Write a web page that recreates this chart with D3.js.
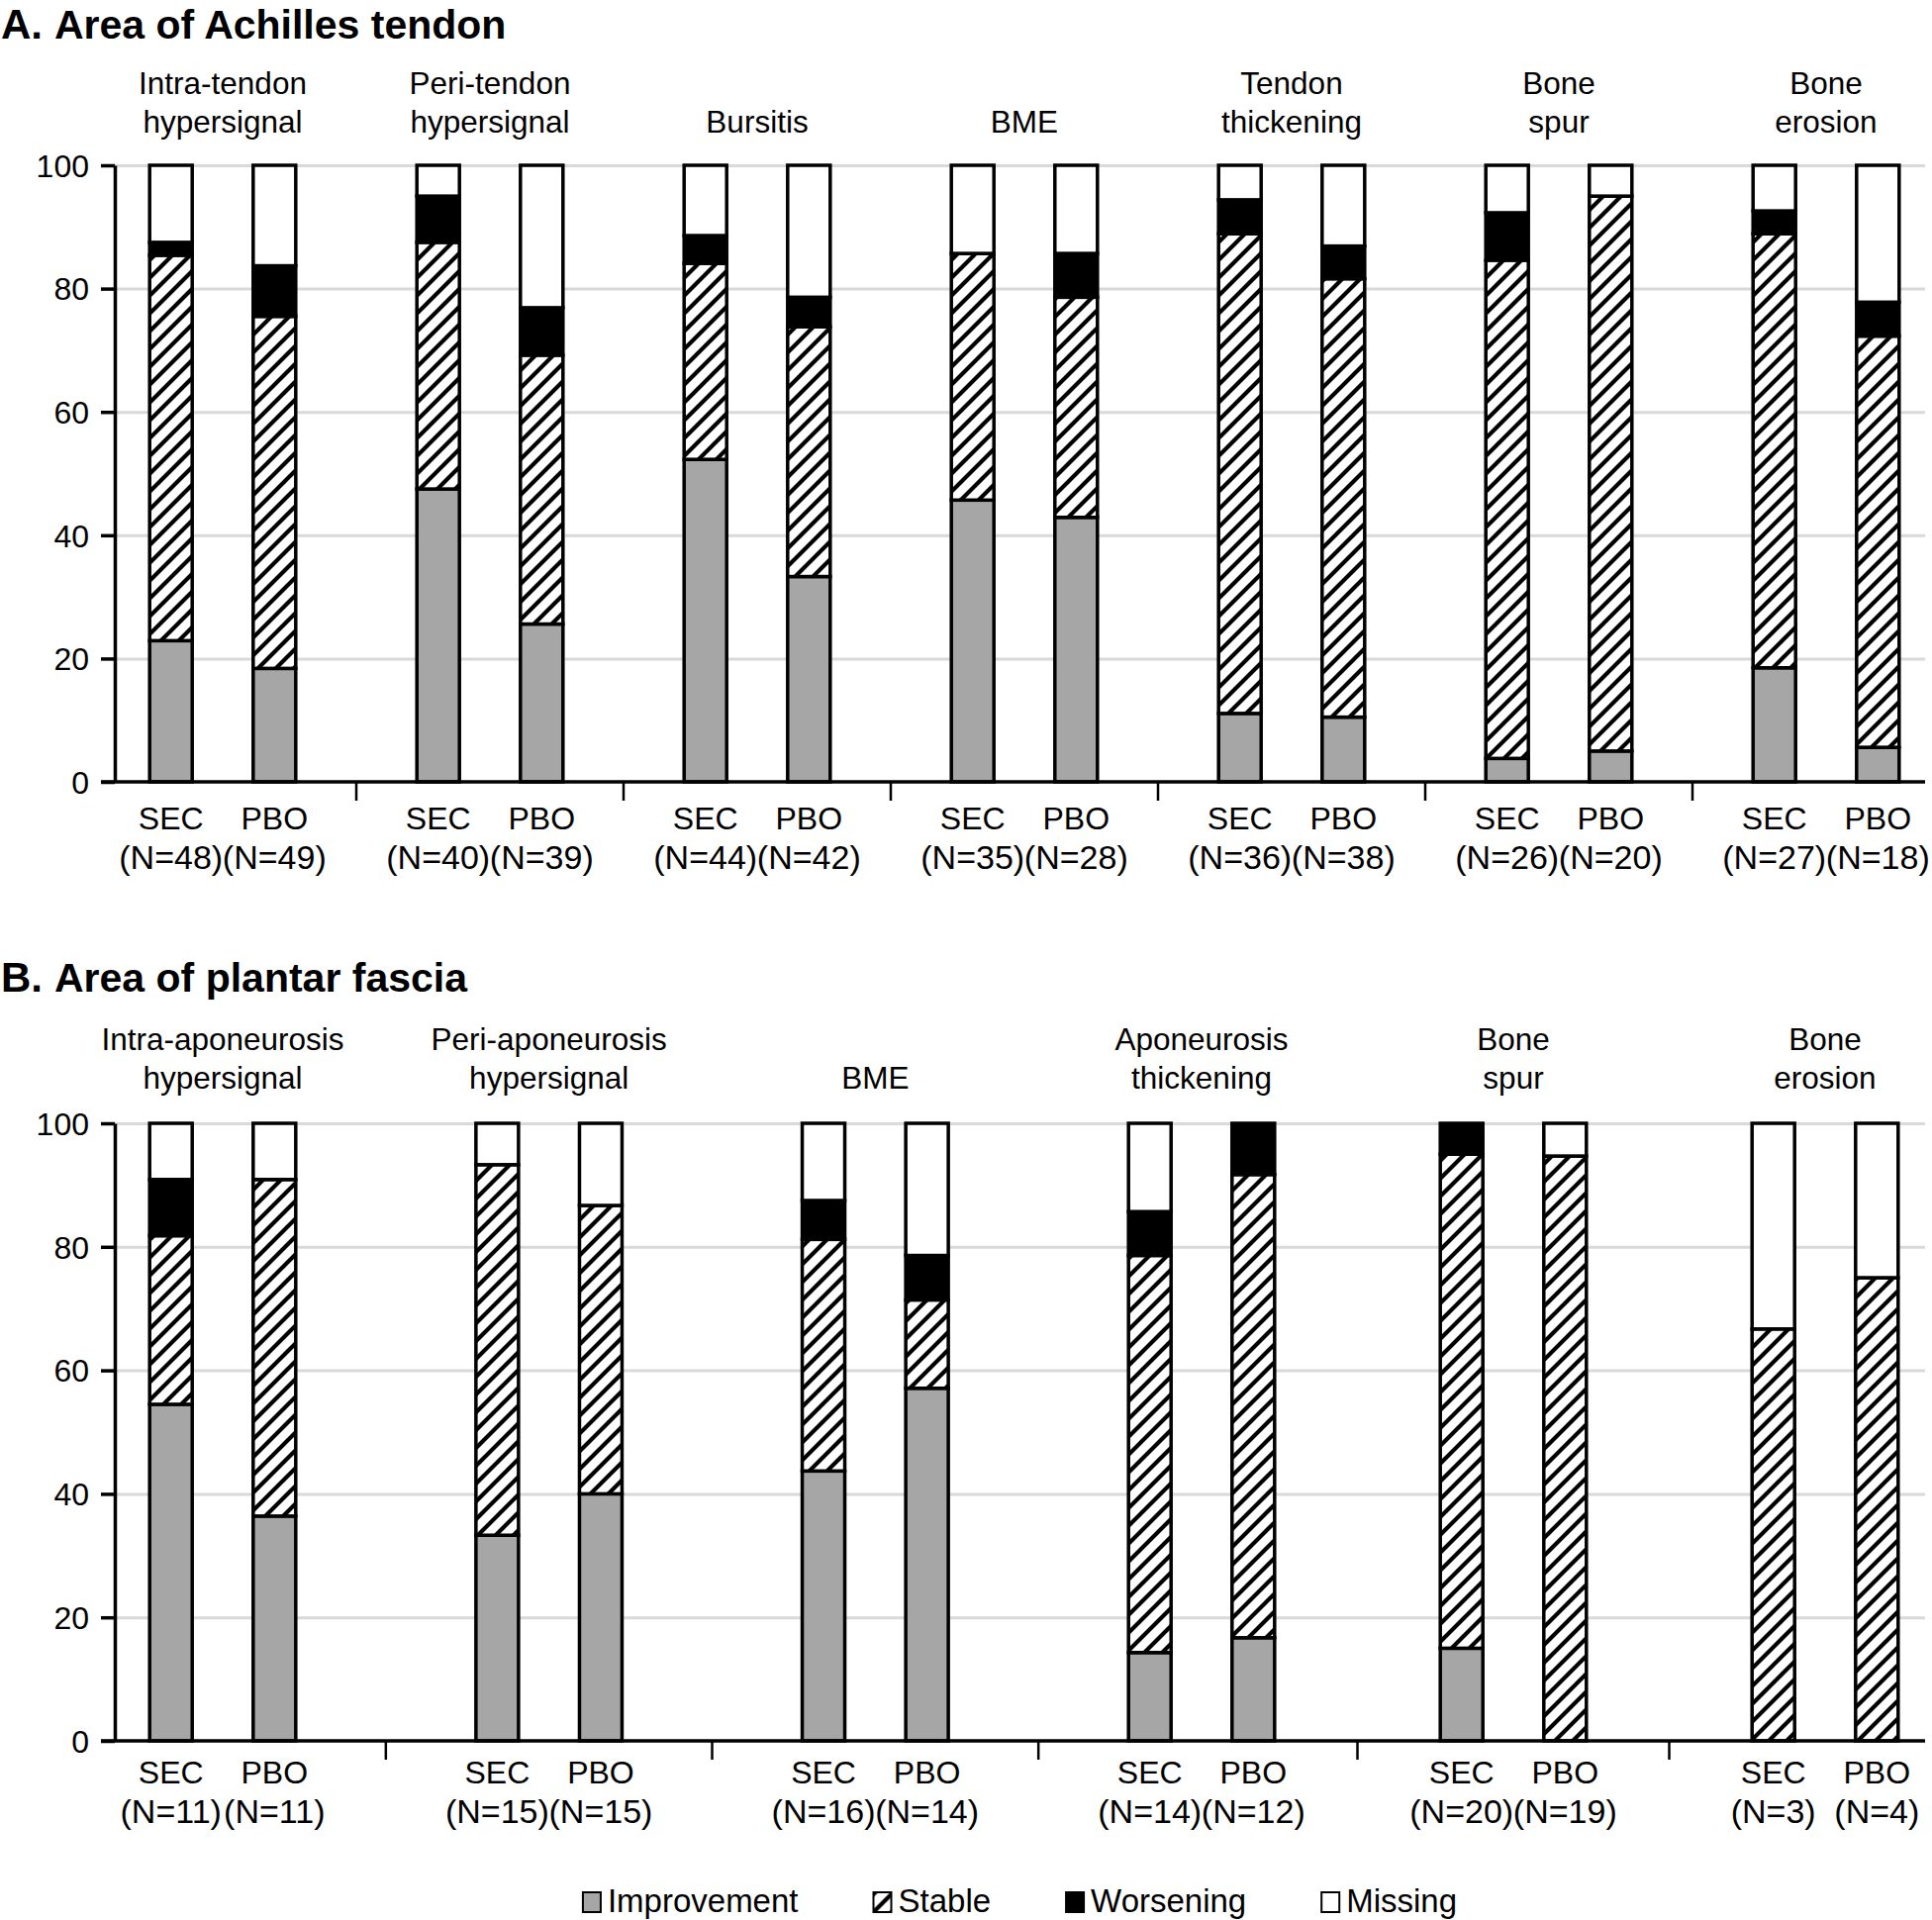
<!DOCTYPE html>
<html><head><meta charset="utf-8">
<script src="https://cdn.jsdelivr.net/npm/d3@7"></script>
<style>
body{margin:0;background:#fff}
svg{display:block}
text{font-family:"Liberation Sans",Arial,Helvetica,sans-serif;fill:#000}
</style>
</head><body>
<svg id="chart" width="1952" height="1940"></svg>
<script>
// ---------------- DATA ----------------
const seriesNames = ["Improvement", "Stable", "Worsening", "Missing"];
const arms = ["SEC", "PBO"];
const yTicks = [0, 20, 40, 60, 80, 100];

// Panel A: Area of Achilles tendon
const achillesGroups = [["Intra-tendon", "hypersignal"], ["Peri-tendon", "hypersignal"], ["Bursitis"], ["BME"], ["Tendon", "thickening"], ["Bone", "spur"], ["Bone", "erosion"]];
const achillesSecN = [48, 40, 44, 35, 36, 26, 27];
const achillesPboN = [49, 39, 42, 28, 38, 20, 18];
const achillesSecImprovement = [22.9, 47.5, 52.3, 45.7, 11.1, 3.8, 18.5];
const achillesSecStable      = [62.5, 40.0, 31.8, 40.0, 77.8, 80.8, 70.4];
const achillesSecWorsening   = [2.1, 7.5, 4.5, 0.0, 5.5, 7.7, 3.7];
const achillesSecMissing     = [12.5, 5.0, 11.4, 14.3, 5.6, 7.7, 7.4];
const achillesPboImprovement = [18.4, 25.6, 33.3, 42.9, 10.5, 5.0, 5.6];
const achillesPboStable      = [57.1, 43.6, 40.5, 35.7, 71.1, 90.0, 66.7];
const achillesPboWorsening   = [8.2, 7.7, 4.8, 7.1, 5.3, 0.0, 5.5];
const achillesPboMissing     = [16.3, 23.1, 21.4, 14.3, 13.1, 5.0, 22.2];

// Panel B: Area of plantar fascia
const fasciaGroups = [["Intra-aponeurosis", "hypersignal"], ["Peri-aponeurosis", "hypersignal"], ["BME"], ["Aponeurosis", "thickening"], ["Bone", "spur"], ["Bone", "erosion"]];
const fasciaSecN = [11, 15, 16, 14, 20, 3];
const fasciaPboN = [11, 15, 14, 12, 19, 4];
const fasciaSecImprovement = [54.5, 33.3, 43.7, 14.3, 15.0, 0.0];
const fasciaSecStable      = [27.3, 60.0, 37.5, 64.3, 80.0, 66.7];
const fasciaSecWorsening   = [9.1, 0.0, 6.3, 7.1, 5.0, 0.0];
const fasciaSecMissing     = [9.1, 6.7, 12.5, 14.3, 0.0, 33.3];
const fasciaPboImprovement = [36.4, 40.0, 57.1, 16.7, 0.0, 0.0];
const fasciaPboStable      = [54.5, 46.7, 14.3, 75.0, 94.7, 75.0];
const fasciaPboWorsening   = [0.0, 0.0, 7.2, 8.3, 0.0, 0.0];
const fasciaPboMissing     = [9.1, 13.3, 21.4, 0.0, 5.3, 25.0];

// ---------------- DRAWING ----------------
const svg = d3.select("#chart");
svg.append("rect").attr("width", 1952).attr("height", 1940).attr("fill", "#fff");

const defs = svg.append("defs");
const pat = defs.append("pattern").attr("id", "hatch")
  .attr("patternUnits", "userSpaceOnUse").attr("width", 18).attr("height", 18);
pat.append("rect").attr("width", 18).attr("height", 18).attr("fill", "#fff");
pat.append("path").attr("d", "M-4.5,4.5 L4.5,-4.5 M0,18 L18,0 M13.5,22.5 L22.5,13.5")
  .attr("stroke", "#000").attr("stroke-width", 4.2);

const fills = {Improvement: "#a6a6a6", Stable: "url(#hatch)", Worsening: "#000", Missing: "#fff"};
const FS = 31.5;
const axisLeftX = 116, axisRightX = 1945;

function drawPanel(cfg) {
  const g = svg.append("g");
  const y = d3.scaleLinear().domain([0, 100]).range([cfg.y0, cfg.y100]);
  const x = d3.scaleLinear().domain(cfg.xDomain).range(cfg.xRange);
  const armOffset = d3.scalePoint().domain(arms).range([-52.3, 52.3]);
  const barW = 43;

  // title
  const t = g.append("text").attr("x", 1).attr("y", cfg.titleY).style("font-weight", "bold");
  t.append("tspan").text(cfg.letter).style("font-size", "42px");
  t.append("tspan").attr("x", 55).text(cfg.title).style("font-size", "41px");

  // gridlines
  g.append("g").attr("transform", `translate(${axisLeftX},0)`)
    .call(d3.axisLeft(y).tickValues(yTicks.filter(v => v > 0)).tickSize(-(axisRightX - axisLeftX)).tickFormat(""))
    .call(s => s.select(".domain").remove())
    .call(s => s.selectAll("line").attr("stroke", "#d9d9d9").attr("stroke-width", 3));

  // rows for stacking
  const rows = [];
  cfg.groups.forEach((lab, i) => {
    arms.forEach(arm => {
      const src = cfg.values[arm];
      rows.push({gi: i, arm: arm, N: cfg.N[arm][i],
        Improvement: src.Improvement[i], Stable: src.Stable[i], Worsening: src.Worsening[i], Missing: src.Missing[i]});
    });
  });
  const stacked = d3.stack().keys(seriesNames)(rows);

  const barsG = g.append("g");
  stacked.forEach(layer => {
    barsG.append("g").selectAll("rect")
      .data(layer.filter(d => d[1] - d[0] > 0.001))
      .join("rect")
      .attr("x", d => x(d.data.gi) + armOffset(d.data.arm) - barW / 2)
      .attr("width", barW)
      .attr("y", d => y(d[1]))
      .attr("height", d => y(d[0]) - y(d[1]))
      .attr("fill", fills[layer.key])
      .attr("stroke", "#000")
      .attr("stroke-width", 3.5);
  });

  // y axis
  const ya = g.append("g").attr("transform", `translate(${axisLeftX},0)`)
    .call(d3.axisLeft(y).tickValues(yTicks).tickSize(14).tickSizeOuter(0).tickPadding(12));
  ya.select(".domain").attr("stroke", "#000").attr("stroke-width", 3.5);
  ya.selectAll(".tick line").attr("stroke", "#000").attr("stroke-width", 3.5);
  ya.selectAll(".tick text").style("font-size", "32px").attr("font-family", null).attr("dy", "0.35em");

  // x axis line
  g.append("line").attr("x1", axisLeftX - 14).attr("x2", axisRightX)
    .attr("y1", y(0)).attr("y2", y(0)).attr("stroke", "#000").attr("stroke-width", 3.5);

  // group separators
  g.append("g").selectAll("line").data(d3.range(cfg.groups.length - 1)).join("line")
    .attr("x1", i => x(i + 0.5)).attr("x2", i => x(i + 0.5))
    .attr("y1", y(0)).attr("y2", y(0) + 19)
    .attr("stroke", "#000").attr("stroke-width", 2.5);

  // group labels
  g.append("g").selectAll("text").data(cfg.groups).join("text")
    .attr("text-anchor", "middle").style("font-size", FS + "px")
    .each(function (lines, i) {
      const sel = d3.select(this);
      const baseY = [cfg.labelY1, cfg.labelY2];
      const offset = lines.length === 1 ? 1 : 0;
      lines.forEach((ln, k) => {
        sel.append("tspan").attr("x", x(i)).attr("y", baseY[k + offset]).text(ln);
      });
    });

  // category labels
  const cat = g.append("g").selectAll("text").data(rows).join("text")
    .attr("text-anchor", "middle");
  cat.append("tspan").attr("x", d => x(d.gi) + armOffset(d.arm)).attr("y", y(0) + cfg.catY1)
    .style("font-size", "32px").text(d => d.arm);
  cat.append("tspan").attr("x", d => x(d.gi) + armOffset(d.arm)).attr("y", y(0) + cfg.catY2)
    .style("font-size", "34px").text(d => `(N=${d.N})`);
}

drawPanel({
  letter: "A.", title: "Area of Achilles tendon", titleY: 39,
  y0: 790, y100: 167, xDomain: [0, 6], xRange: [225, 1845],
  labelY1: 95, labelY2: 134, catY1: 48, catY2: 88,
  groups: achillesGroups,
  N: {SEC: achillesSecN, PBO: achillesPboN},
  values: {
    SEC: {Improvement: achillesSecImprovement, Stable: achillesSecStable, Worsening: achillesSecWorsening, Missing: achillesSecMissing},
    PBO: {Improvement: achillesPboImprovement, Stable: achillesPboStable, Worsening: achillesPboWorsening, Missing: achillesPboMissing}
  }
});

drawPanel({
  letter: "B.", title: "Area of plantar fascia", titleY: 1002,
  y0: 1759, y100: 1135, xDomain: [0, 3, 5], xRange: [225, 1214, 1844],
  labelY1: 1061, labelY2: 1100, catY1: 43, catY2: 83,
  groups: fasciaGroups,
  N: {SEC: fasciaSecN, PBO: fasciaPboN},
  values: {
    SEC: {Improvement: fasciaSecImprovement, Stable: fasciaSecStable, Worsening: fasciaSecWorsening, Missing: fasciaSecMissing},
    PBO: {Improvement: fasciaPboImprovement, Stable: fasciaPboStable, Worsening: fasciaPboWorsening, Missing: fasciaPboMissing}
  }
});

// legend
const legend = svg.append("g");
const items = legend.selectAll("g").data(seriesNames).join("g");
items.append("rect").attr("x", 0).attr("y", -20).attr("width", 18).attr("height", 20)
  .attr("fill", d => fills[d]).attr("stroke", "#000").attr("stroke-width", 2);
items.append("text").attr("x", 25).attr("y", 0).style("font-size", "33px").text(d => d);
let cx = 0;
const gap = 76;
items.each(function () {
  const w = this.getBBox().width;
  d3.select(this).attr("data-x", cx);
  cx += w + gap;
});
const total = cx - gap;
const startX = (axisLeftX + axisRightX) / 2 - total / 2;
items.attr("transform", function () { return `translate(${startX + (+this.getAttribute("data-x"))},1932)`; });
</script>
</body></html>
